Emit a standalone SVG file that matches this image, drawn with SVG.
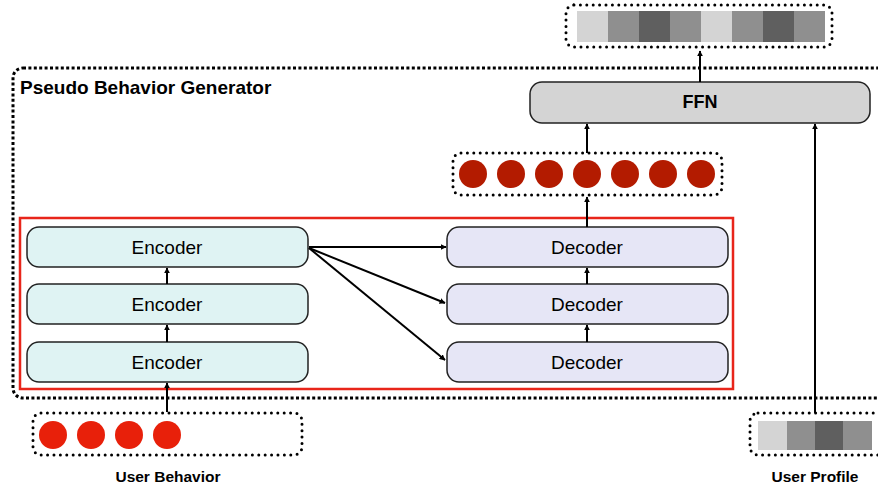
<svg xmlns="http://www.w3.org/2000/svg" width="878" height="488" viewBox="0 0 878 488">
  <style>
    text { font-family: "Liberation Sans", Arial, sans-serif; fill: #000; }
    .label { font-size: 19px; text-anchor: middle; }
    .bold { font-weight: bold; }
    .dots { fill: none; stroke: #000; stroke-width: 3; stroke-dasharray: 0 6.4; stroke-linecap: round; }
    .frame { fill: none; stroke: #000; stroke-width: 3; stroke-dasharray: 3 2.4; }
    .enc { fill: #dff3f3; stroke: #222; stroke-width: 1.5; }
    .dec { fill: #e6e6f6; stroke: #222; stroke-width: 1.5; }
    .ffn { fill: #d4d4d4; stroke: #222; stroke-width: 1.5; }
    .conn { stroke: #000; stroke-width: 2; fill: none; marker-end: url(#arrow); }
    .light { fill: #d4d4d4; }
    .mid { fill: #8f8f8f; }
    .dark { fill: #5f5f5f; }
  </style>
  <defs>
    <marker id="arrow" viewBox="0 0 10 10" refX="9" refY="5" markerWidth="6" markerHeight="6" markerUnits="userSpaceOnUse" orient="auto">
      <path d="M0,0 L10,5 L0,10 z" fill="#000"/>
    </marker>
  </defs>

  <!-- outer generator frame (runs off the right edge) -->
  <g id="generator">
    <rect class="frame" x="13" y="68" width="900" height="330" rx="10"/>
    <text class="bold" x="20" y="94" font-size="19">Pseudo Behavior Generator</text>
  </g>

  <!-- encoder/decoder stack outline -->
  <g id="transformer">
    <rect x="20" y="218" width="713" height="171" fill="none" stroke="#e8251a" stroke-width="2.5"/>
  </g>

  <!-- output embedding -->
  <g id="output">
    <rect class="dots" x="566" y="5" width="266" height="42" rx="8"/>
    <rect class="light" x="577" y="11" width="31" height="31"/>
    <rect class="mid" x="608" y="11" width="31" height="31"/>
    <rect class="dark" x="639" y="11" width="31" height="31"/>
    <rect class="mid" x="670" y="11" width="31" height="31"/>
    <rect class="light" x="701" y="11" width="31" height="31"/>
    <rect class="mid" x="732" y="11" width="31" height="31"/>
    <rect class="dark" x="763" y="11" width="31" height="31"/>
    <rect class="mid" x="794" y="11" width="31" height="31"/>
  </g>

  <g id="ffn">
    <rect class="ffn" x="530" y="82" width="340" height="41" rx="12"/>
    <text class="bold" x="700" y="108" font-size="18" text-anchor="middle">FFN</text>
  </g>

  <!-- generated pseudo behaviour sequence -->
  <g id="pseudo-seq">
    <rect class="dots" x="453" y="153" width="269" height="42" rx="8"/>
    <g fill="#b31b00">
      <circle cx="473" cy="174" r="14"/>
      <circle cx="511" cy="174" r="14"/>
      <circle cx="549" cy="174" r="14"/>
      <circle cx="587" cy="174" r="14"/>
      <circle cx="625" cy="174" r="14"/>
      <circle cx="663" cy="174" r="14"/>
      <circle cx="701" cy="174" r="14"/>
    </g>
  </g>

  <g id="encoder-1">
    <rect class="enc" x="27" y="227" width="281" height="40" rx="12"/>
    <text class="label" x="167" y="254">Encoder</text>
  </g>
  <g id="encoder-2">
    <rect class="enc" x="27" y="284" width="281" height="40" rx="12"/>
    <text class="label" x="167" y="311">Encoder</text>
  </g>
  <g id="encoder-3">
    <rect class="enc" x="27" y="342" width="281" height="40" rx="12"/>
    <text class="label" x="167" y="369">Encoder</text>
  </g>

  <g id="decoder-1">
    <rect class="dec" x="447" y="227" width="281" height="40" rx="12"/>
    <text class="label" x="587" y="254">Decoder</text>
  </g>
  <g id="decoder-2">
    <rect class="dec" x="447" y="284" width="281" height="40" rx="12"/>
    <text class="label" x="587" y="311">Decoder</text>
  </g>
  <g id="decoder-3">
    <rect class="dec" x="447" y="342" width="281" height="40" rx="12"/>
    <text class="label" x="587" y="369">Decoder</text>
  </g>

  <g id="user-behavior">
    <rect class="dots" x="33" y="413" width="269" height="42" rx="8"/>
    <g fill="#e8200a">
      <circle cx="53" cy="435" r="14"/>
      <circle cx="91" cy="435" r="14"/>
      <circle cx="129" cy="435" r="14"/>
      <circle cx="167" cy="435" r="14"/>
    </g>
    <text class="bold" x="168" y="482" font-size="15.5" text-anchor="middle">User Behavior</text>
  </g>

  <g id="user-profile">
    <rect class="dots" x="750" y="413" width="140" height="42" rx="8"/>
    <rect class="light" x="758" y="421" width="29" height="29"/>
    <rect class="mid" x="787" y="421" width="28" height="29"/>
    <rect class="dark" x="815" y="421" width="28" height="29"/>
    <rect class="mid" x="843" y="421" width="29" height="29"/>
    <text class="bold" x="815" y="482" font-size="15.5" text-anchor="middle">User Profile</text>
  </g>

  <g id="connectors">
    <line class="conn" x1="167" y1="412" x2="167" y2="383"/>
    <line class="conn" x1="167" y1="342" x2="167" y2="325"/>
    <line class="conn" x1="167" y1="284" x2="167" y2="268"/>
    <line class="conn" x1="309" y1="247" x2="446" y2="247"/>
    <line class="conn" x1="309" y1="248" x2="445" y2="303"/>
    <line class="conn" x1="309" y1="248" x2="445" y2="360"/>
    <line class="conn" x1="587" y1="342" x2="587" y2="325"/>
    <line class="conn" x1="587" y1="284" x2="587" y2="268"/>
    <line class="conn" x1="587" y1="227" x2="587" y2="197"/>
    <line class="conn" x1="587" y1="153" x2="587" y2="124"/>
    <line class="conn" x1="815" y1="413" x2="815" y2="124"/>
    <line class="conn" x1="700" y1="82" x2="700" y2="51"/>
  </g>
</svg>
